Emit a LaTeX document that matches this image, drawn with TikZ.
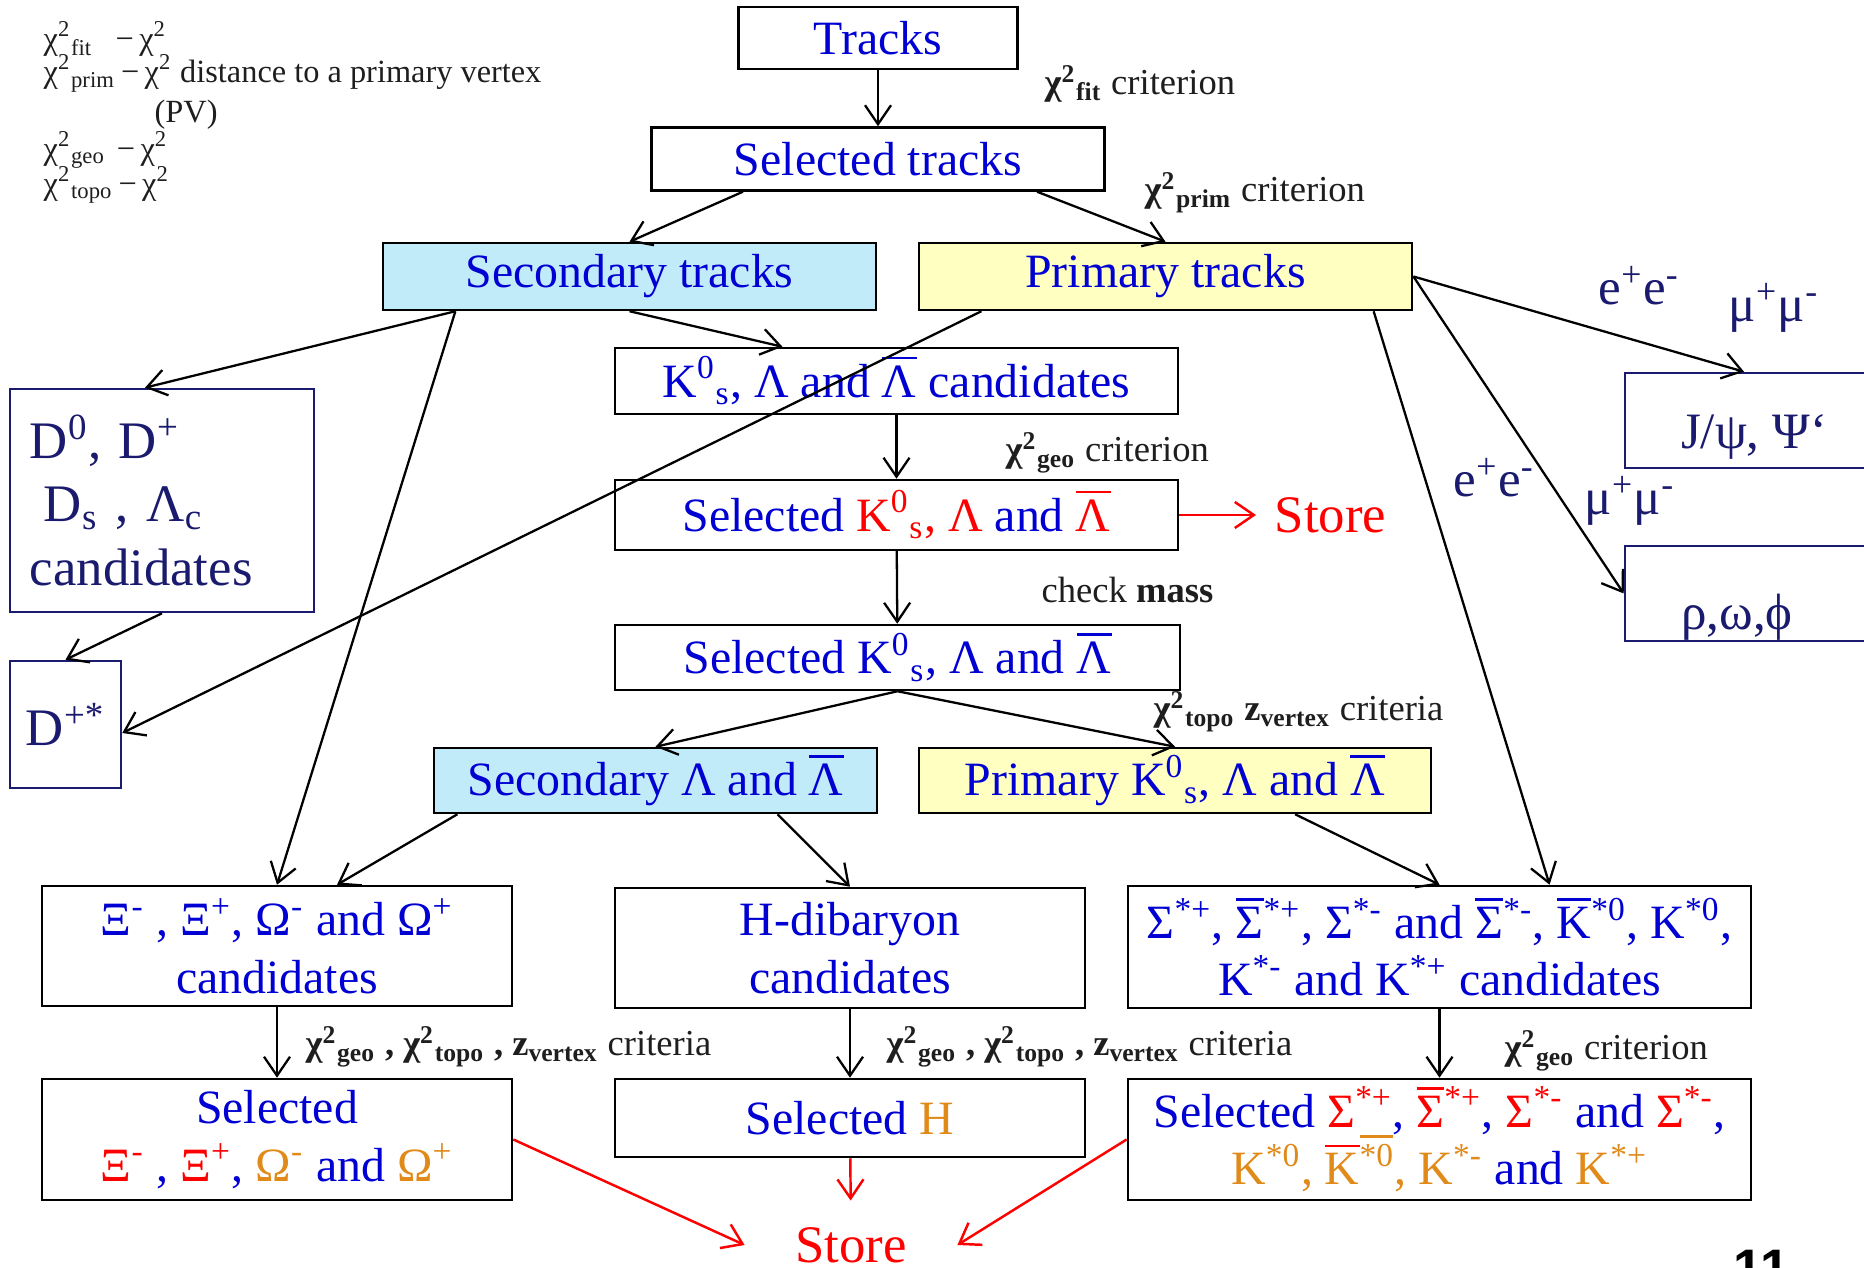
\documentclass[tikz,border=0pt]{standalone}
\usepackage{fontspec}
\setmainfont{Liberation Serif}
\newfontfamily\slidenofont{Liberation Sans}
\usetikzlibrary{arrows.meta}

\definecolor{partblue}{RGB}{0,0,210}
\definecolor{storered}{RGB}{255,0,0}
\definecolor{hyperorange}{RGB}{224,138,26}
\definecolor{secfill}{RGB}{194,235,250}
\definecolor{primfill}{RGB}{255,255,194}
\definecolor{navy}{RGB}{26,26,110}
\definecolor{labelgray}{RGB}{30,30,30}

\newcommand{\sps}[1]{\textsuperscript{#1}}
\newcommand{\sbs}[1]{\textsubscript{#1}}
\newcommand{\barred}[1]{\leavevmode\vbox{\hrule height 0.7pt\kern 1.8pt\hbox{#1}}}
\newcommand{\Kzs}{K\sps{0}\sbs{s}}
\newcommand{\Lbar}{\barred{Λ}}
\newcommand{\chisq}[1]{χ\sps{2}\sbs{#1}}

\begin{document}
\begin{tikzpicture}[x=0.01cm,y=-0.01cm,>={Straight Barb[length=1.9mm,width=2.6mm]},
    stagebox/.style={draw,line width=0.7pt,text=partblue,align=center,inner sep=0pt,
      font=\fontsize{13.6}{16.3}\selectfont},
    secbox/.style={stagebox,fill=secfill},
    primbox/.style={stagebox,fill=primfill},
    charmbox/.style={draw=navy,line width=0.7pt,text=navy,inner sep=0pt,
      font=\fontsize{15}{18.1}\selectfont},
    lepton/.style={text=navy,anchor=base west,inner sep=0pt,font=\fontsize{14.5}{17}\selectfont},
    cutlabel/.style={text=labelgray,anchor=base west,inner sep=0pt,font=\fontsize{10.4}{12.5}\selectfont},
    legendtext/.style={text=labelgray,anchor=base west,inner sep=0pt,font=\fontsize{9.2}{11}\selectfont},
    storetext/.style={text=storered,font=\fontsize{15}{18}\selectfont},
    flow/.style={every edge/.append style={->,line width=0.65pt}},
    keep/.style={every edge/.append style={->,draw=storered,line width=0.7pt}}]
    \useasboundingbox (0,0) rectangle (1864,1268);
    \clip (0,0) rectangle (1864,1268);

    % legend
    \node[legendtext] (legfit)  at (43,50)  {\chisq{fit}\hspace{0.7em}−\,χ\sps{2}};
    \node[legendtext] (legprim) at (43,83)  {\chisq{prim}\,−\,χ\sps{2} distance to a primary vertex};
    \node[legendtext] (legpv)   at (154,123) {(PV)};
    \node[legendtext] (leggeo)  at (43,160) {\chisq{geo}\hspace{0.35em}−\,χ\sps{2}};
    \node[legendtext] (legtopo) at (43,195) {\chisq{topo}\,−\,χ\sps{2}};

    % tracks
    \node[stagebox,minimum width=2.79cm,minimum height=0.62cm] (tracks) at (878,38) {Tracks};
    \node[stagebox,minimum width=4.53cm,minimum height=0.63cm] (seltracks) at (878,159) {Selected tracks};
    \node[secbox,minimum width=4.93cm,minimum height=0.67cm] (sectracks) at (629.5,276.5) {Secondary tracks};
    \node[primbox,minimum width=4.93cm,minimum height=0.67cm] (primtracks) at (1165.5,276.5) {Primary tracks};

    % V0 chain
    \node[stagebox,minimum width=5.63cm,minimum height=0.66cm] (kcand) at (896.5,381) {\Kzs, Λ and \Lbar\ candidates};
    \node[stagebox,minimum width=5.63cm,minimum height=0.70cm] (selKr) at (896.5,515)
        {Selected {\color{storered}\Kzs, Λ} and {\color{storered}\Lbar}};
    \node[stagebox,minimum width=5.65cm,minimum height=0.65cm] (selKb) at (897.5,657.5) {Selected \Kzs, Λ and \Lbar};
    \node[secbox,minimum width=4.43cm,minimum height=0.65cm] (secL) at (655.5,780.5) {Secondary Λ and \Lbar};
    \node[primbox,minimum width=5.12cm,minimum height=0.65cm] (primK) at (1175,780.5) {Primary \Kzs, Λ and \Lbar};

    % charm and dileptons
    \node[charmbox,minimum width=3.04cm,minimum height=2.23cm,text width=2.64cm,align=left] (charm) at (162,500.5)
        {D\sps{0}, D\sps{+}\\\hspace*{0.14cm}D\sbs{s} , Λ\sbs{c}\\candidates};
    \node[charmbox,minimum width=1.11cm,minimum height=1.27cm] (dstar) at (65.5,724.5) {\raisebox{-0.21cm}{D\sps{+*}}};
    \node[charmbox,minimum width=2.58cm,minimum height=0.95cm,font=\fontsize{14.5}{17}\selectfont] (jpsi) at (1754,420.5)
        {\raisebox{-0.28cm}[0pt][0pt]{J/ψ, Ψ‘}};
    \node[charmbox,minimum width=2.58cm,minimum height=0.95cm,font=\fontsize{14.5}{17}\selectfont] (rho) at (1754,593.5)
        {\raisebox{-0.36cm}[0pt][0pt]{ρ,ω,ϕ\hspace{0.34cm}}};
    \node[lepton] (eeA) at (1598,305) {e\sps{+}e\sps{-}};
    \node[lepton] (mmA) at (1728,322) {μ\sps{+}μ\sps{-}};
    \node[lepton] (eeB) at (1453,497) {e\sps{+}e\sps{-}};
    \node[lepton] (mmB) at (1584,515) {μ\sps{+}μ\sps{-}};

    % hyperons
    \node[stagebox,minimum width=4.70cm,minimum height=1.20cm] (xi) at (277,946)
        {Ξ\sps{-} , Ξ\sps{+}, Ω\sps{-} and Ω\sps{+}\\candidates};
    \node[stagebox,minimum width=4.70cm,minimum height=1.20cm] (hdib) at (850,948) {H-dibaryon\\candidates};
    \node[stagebox,minimum width=6.23cm,minimum height=1.22cm] (sigma) at (1439.5,947)
        {Σ\sps{*+}, \barred{Σ}\sps{*+}, Σ\sps{*-} and \barred{Σ}\sps{*-}, \barred{K}\sps{*0}, K\sps{*0},\\
         K\sps{*-} and K\sps{*+} candidates};
    \node[stagebox,minimum width=4.70cm,minimum height=1.21cm] (selxi) at (277,1139.5)
        {Selected\\{\color{storered}Ξ\sps{-}} , {\color{storered}Ξ\sps{+}}, {\color{hyperorange}Ω\sps{-}} and {\color{hyperorange}Ω\sps{+}}};
    \node[stagebox,minimum width=4.70cm,minimum height=0.78cm] (selh) at (850,1118) {Selected {\color{hyperorange}H}};
    \node[stagebox,minimum width=6.23cm,minimum height=1.21cm] (selsigma) at (1439.5,1139.5)
        {Selected {\color{storered}Σ\sps{*+}}, {\color{storered}\barred{Σ}\sps{*+}}, {\color{storered}Σ\sps{*-}} and {\color{storered}Σ\sps{*-}},\\
         {\color{hyperorange}K\sps{*0}, {\color{storered}\barred{\color{hyperorange}K}}\sps{\barred{*0}}, K\sps{*-}} and {\color{hyperorange}K\sps{*+}}};

    \node[storetext,anchor=west,inner sep=0.18cm] (storeR) at (1256,515) {Store};
    \node[storetext,inner xsep=0.5cm,inner ysep=0.26cm] (storeB) at (851,1245) {Store};

    % cuts
    \node[cutlabel] (cfit)  at (1044,95)  {\textbf{\chisq{fit}} criterion};
    \node[cutlabel] (cprim) at (1144,202) {\textbf{\chisq{prim}} criterion};
    \node[cutlabel] (cgeo)  at (1005,462) {\textbf{\chisq{geo}} criterion};
    \node[cutlabel] (cmass) at (1041,603) {check \textbf{mass}};
    \node[cutlabel] (ctopo) at (1153,721) {\textbf{\chisq{topo} z\sbs{vertex}} criteria};
    \node[cutlabel] (cxi)   at (305,1056) {\textbf{\chisq{geo} , \chisq{topo} , z\sbs{vertex}} criteria};
    \node[cutlabel] (chdib) at (886,1056) {\textbf{\chisq{geo} , \chisq{topo} , z\sbs{vertex}} criteria};
    \node[cutlabel] (csig)  at (1504,1060) {\textbf{\chisq{geo}} criterion};

    \node[anchor=base west,inner sep=0pt,font=\slidenofont\bfseries\fontsize{15}{18}\selectfont] (slideno) at (1733,1286) {11};

    \path[flow]
        (tracks) edge (seltracks)
        ([xshift=-1.35cm]seltracks.south) edge (sectracks.north)
        ([xshift=1.59cm]seltracks.south) edge (primtracks.north)
        ([xshift=-1.74cm]sectracks.south) edge ([xshift=-0.17cm]charm.north)
        ([xshift=-1.74cm]sectracks.south) edge (xi.north)
        (sectracks.south) edge ([xshift=-1.14cm]kcand.north)
        ([xshift=-1.84cm]primtracks.south) edge ([yshift=-0.085cm]dstar.east)
        ([xshift=2.08cm]primtracks.south) edge ([xshift=1.1cm]sigma.north)
        (primtracks.east) edge ([xshift=-0.1cm]jpsi.north)
        (primtracks.east) edge (rho.west)
        (charm.south) edge (dstar.north)
        (kcand) edge (selKr)
        (selKr) edge (selKb)
        (selKb.south) edge (secL.north)
        (selKb.south) edge (primK.north)
        ([xshift=-1.98cm]secL.south) edge ([xshift=0.6cm]xi.north)
        ([xshift=1.22cm]secL.south) edge (hdib.north)
        ([xshift=1.2cm]primK.south) edge (sigma.north)
        (xi) edge (selxi)
        (hdib) edge (selh)
        (sigma) edge (selsigma);

    \path[keep]
        (selKr.east) edge (storeR.west)
        (selxi.east) edge (storeB.west)
        (selh) edge (storeB)
        (selsigma.west) edge (storeB.east);
\end{tikzpicture}
\end{document}
